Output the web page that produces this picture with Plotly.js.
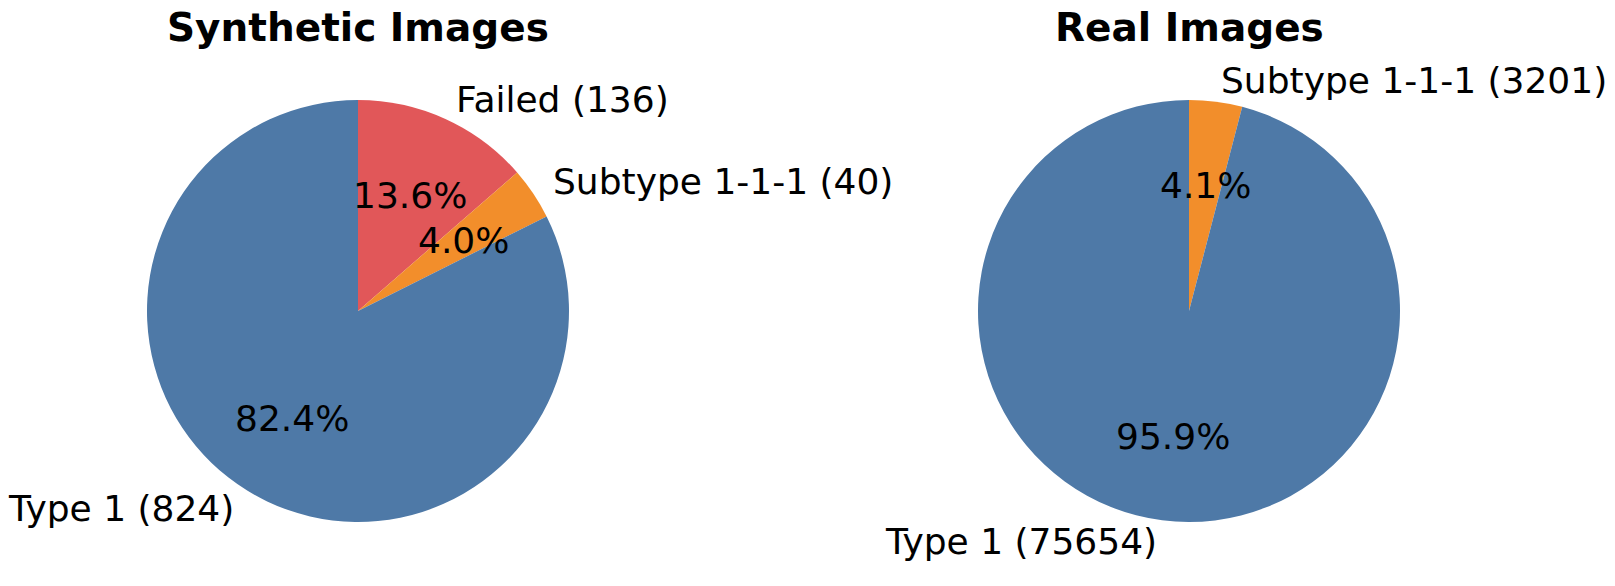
<!DOCTYPE html>
<html>
<head>
<meta charset="utf-8">
<script src="https://cdn.plot.ly/plotly-3.0.1.min.js"></script>
<style>
  html, body { margin: 0; padding: 0; background: #fff; }
  #chart { width: 1615px; height: 586px; }
</style>
</head>
<body>
<div id="chart"></div>
<script>
// data
const chartTitles = ["Synthetic Images", "Real Images"];
const synthLabels = ["Type 1", "Subtype 1-1-1", "Failed"];
const synthCounts = [824, 40, 136];
const realLabels = ["Type 1", "Subtype 1-1-1"];
const realCounts = [75654, 3201];
const sliceColors = ["#4e79a7", "#f28e2b", "#e15759"];

const W = 1615, H = 586;
const centersX = [358, 1189];
const centerY = 311;
const radius = 211;
const font = "DejaVu Sans, Liberation Sans, sans-serif";

const pies = [
    { labels: synthLabels, counts: synthCounts },
    { labels: realLabels, counts: realCounts }
];

let traces = [];
let annotations = [];

pies.forEach(function (p, i)
{
    const cx = centersX[i];
    const cols = sliceColors.slice(0, p.labels.length);
    // matplotlib goes counterclockwise from 12 o'clock; same thing as clockwise with the order reversed
    traces.push({
        type: "pie",
        labels: p.labels.slice().reverse(),
        values: p.counts.slice().reverse(),
        sort: false,
        direction: "clockwise",
        rotation: 0,
        textinfo: "none",
        hoverinfo: "label+value+percent",
        marker: { colors: cols.slice().reverse(), line: { width: 0 } },
        domain: {
            x: [(cx - radius) / W, (cx + radius) / W],
            y: [1 - (centerY + radius) / H, 1 - (centerY - radius) / H]
        }
    });

    // label + percentage text, placed like matplotlib (labeldistance 1.1, pctdistance 0.6)
    const total = p.counts.reduce((a, b) => a + b, 0);
    let cum = 0;
    p.counts.forEach(function (v, k)
    {
        const frac = v / total;
        const ang = (90 + 360 * (cum + frac / 2)) * Math.PI / 180;
        cum += frac;
        const c = Math.cos(ang), s = Math.sin(ang);

        const lx = cx + 1.1 * radius * c, ly = centerY - 1.1 * radius * s;
        annotations.push({
            text: p.labels[k] + " (" + v + ")",
            x: lx / W, y: 1 - ly / H, xref: "paper", yref: "paper",
            xanchor: c > 0 ? "left" : "right", yanchor: "middle",
            showarrow: false,
            font: { family: font, size: 36, color: "#000" }
        });

        const px = cx + 0.6 * radius * c, py = centerY - 0.6 * radius * s;
        annotations.push({
            text: (frac * 100).toFixed(1) + "%",
            x: px / W, y: 1 - py / H, xref: "paper", yref: "paper",
            xanchor: "center", yanchor: "middle",
            showarrow: false,
            font: { family: font, size: 36, color: "#000" }
        });
    });

    annotations.push({
        text: "<b>" + chartTitles[i] + "</b>",
        x: cx / W, y: 1 - 27 / H, xref: "paper", yref: "paper",
        xanchor: "center", yanchor: "middle",
        showarrow: false,
        font: { family: font, size: 39, color: "#000" }
    });
});

const layout = {
    width: W,
    height: H,
    margin: { l: 0, r: 0, t: 0, b: 0 },
    showlegend: false,
    paper_bgcolor: "#fff",
    annotations: annotations
};

Plotly.newPlot("chart", traces, layout, { displayModeBar: false, staticPlot: true });
</script>
</body>
</html>
